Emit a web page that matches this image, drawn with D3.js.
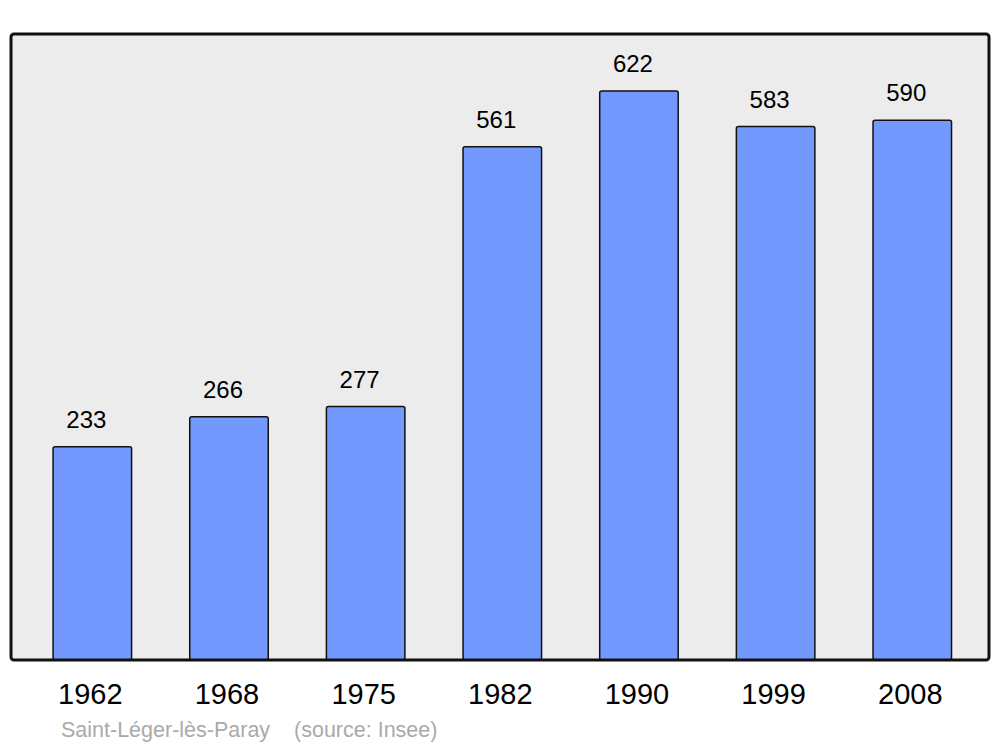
<!DOCTYPE html>
<html>
<head>
<meta charset="utf-8">
<script src="https://cdn.jsdelivr.net/npm/d3@7"></script>
<style>
  body { margin: 0; background: #fff; }
  text { font-family: "Liberation Sans", Arial, sans-serif; }
</style>
</head>
<body>
<svg width="1000" height="747"></svg>
<script>
var years = ["1962", "1968", "1975", "1982", "1990", "1999", "2008"];
var population = [233, 266, 277, 561, 622, 583, 590];
var commune = "Saint-Léger-lès-Paray";
var source = "(source: Insee)";

var svg = d3.select("svg");

var frame = { left: 11, top: 34, right: 989, bottom: 660 };

var x = d3.scaleBand()
    .domain(years)
    .range([24, 980.6])
    .paddingInner(0.4256)
    .paddingOuter(0.2128);

var y = d3.scaleLinear()
    .domain([0, d3.max(population) * 1.1])
    .range([frame.bottom, frame.top]);

// background of plot area
svg.append("rect")
    .attr("x", frame.left)
    .attr("y", frame.top)
    .attr("width", frame.right - frame.left)
    .attr("height", frame.bottom - frame.top)
    .attr("rx", 3)
    .attr("fill", "#ececec");

var data = years.map(function (d, i) { return { year: d, value: population[i] }; });

svg.append("g")
    .selectAll("rect")
    .data(data)
    .enter().append("rect")
    .attr("x", function (d) { return x(d.year); })
    .attr("y", function (d) { return y(d.value); })
    .attr("width", x.bandwidth())
    .attr("height", function (d) { return y(0) - y(d.value); })
    .attr("rx", 2)
    .attr("fill", "#7399ff")
    .attr("stroke", "#111")
    .attr("stroke-width", 1.5);

// frame outline on top of the bars
svg.append("rect")
    .attr("x", frame.left)
    .attr("y", frame.top)
    .attr("width", frame.right - frame.left)
    .attr("height", frame.bottom - frame.top)
    .attr("rx", 3)
    .attr("fill", "none")
    .attr("stroke", "#111")
    .attr("stroke-width", 3);

svg.append("g")
    .selectAll("text")
    .data(data)
    .enter().append("text")
    .attr("x", function (d) { return x(d.year) + x.bandwidth() / 2 - 6; })
    .attr("y", function (d) { return y(d.value) - 19; })
    .attr("text-anchor", "middle")
    .attr("font-size", 24)
    .attr("fill", "#000")
    .text(function (d) { return d.value; });

var xAxis = svg.append("g")
    .attr("transform", "translate(-2," + frame.bottom + ")")
    .call(d3.axisBottom(x).tickSize(0).tickPadding(0));
xAxis.select(".domain").remove();
xAxis.selectAll("text")
    .attr("dy", 0)
    .attr("y", 44)
    .attr("font-size", 29)
    .attr("font-family", "Liberation Sans, Arial, sans-serif")
    .attr("fill", "#000");

svg.append("text")
    .attr("x", 61)
    .attr("y", 737)
    .attr("font-size", 21.5)
    .attr("fill", "#aaa")
    .attr("xml:space", "preserve")
    .text(commune + "    " + source);
</script>
</body>
</html>
